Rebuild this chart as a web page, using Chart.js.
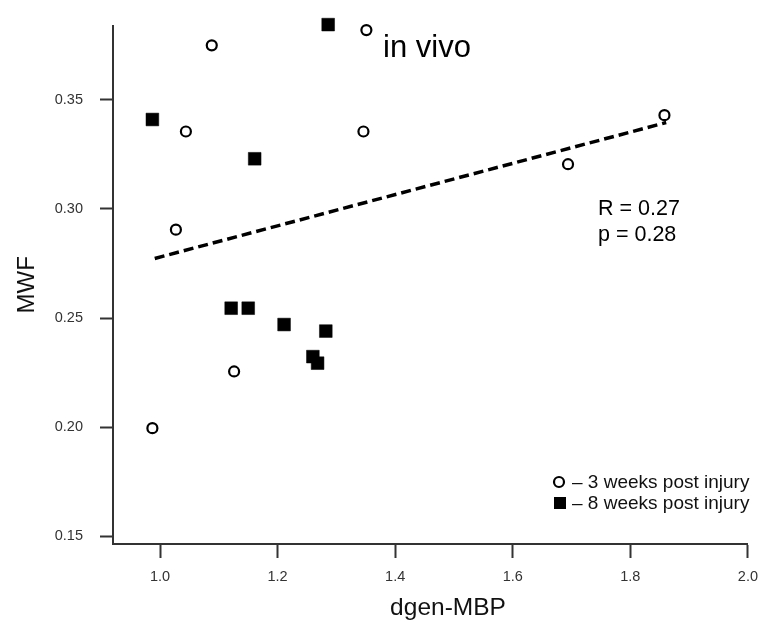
<!DOCTYPE html>
<html>
<head>
<meta charset="utf-8">
<script src="https://cdn.jsdelivr.net/npm/chart.js@4.4.1/dist/chart.umd.min.js"></script>
<style>
  html, body { margin: 0; padding: 0; background: #fff; }
  #wrap { width: 768px; height: 634px; }
</style>
</head>
<body>
<div id="wrap"><canvas id="mwfChart" width="768" height="634"></canvas></div>
<script>
// dgen-MBP vs MWF, in vivo
const weeks3X = [1.088, 1.351, 1.044, 1.346, 1.027, 1.694, 1.858, 1.126, 0.987];
const weeks3Y = [0.375, 0.382, 0.3355, 0.3355, 0.2905, 0.3205, 0.343, 0.2255, 0.1995];

const weeks8X = [1.286, 0.987, 1.161, 1.121, 1.150, 1.211, 1.282, 1.260, 1.268];
const weeks8Y = [0.3845, 0.341, 0.323, 0.2545, 0.2545, 0.247, 0.244, 0.2323, 0.2293];

// linea de regresion (extremos)
const fitX = [0.991, 1.861];
const fitY = [0.2773, 0.3396];

const xTicks = [1.0, 1.2, 1.4, 1.6, 1.8, 2.0];
const yTicks = [0.15, 0.20, 0.25, 0.30, 0.35];

const legendLabels = ['\u2013 3 weeks post injury', '\u2013 8 weeks post injury'];
const statLines = ['R = 0.27', 'p = 0.28'];
const xTitle = 'dgen-MBP';

const FONT = '"Liberation Sans", Arial, sans-serif';
const toPoints = (xs, ys) => xs.map((x, i) => ({ x: x, y: ys[i] }));

// textos sobre el area del grafico
const textosPlugin = {
    id: 'textos',
    afterDraw(chart) {
        const ctx = chart.ctx;
        ctx.save();
        ctx.fillStyle = '#000';
        ctx.textBaseline = 'alphabetic';
        ctx.textAlign = 'left';

        ctx.font = '31px ' + FONT;
        ctx.fillText('in vivo', 383, 57);

        ctx.font = '21.5px ' + FONT;
        ctx.fillText(statLines[0], 598, 215);
        ctx.fillText(statLines[1], 598, 241);

        // titulo del eje x (desplazado a la derecha como en el original)
        ctx.fillStyle = '#111';
        ctx.font = '24.5px ' + FONT;
        ctx.textAlign = 'center';
        ctx.fillText(xTitle, 448, 615);

        // leyenda
        ctx.textAlign = 'left';
        ctx.font = '19px ' + FONT;
        ctx.fillText(legendLabels[0], 572, 488);
        ctx.fillText(legendLabels[1], 572, 509);

        ctx.beginPath();
        ctx.arc(559, 482, 5, 0, Math.PI * 2);
        ctx.fillStyle = '#fff';
        ctx.fill();
        ctx.lineWidth = 2.2;
        ctx.strokeStyle = '#000';
        ctx.stroke();

        ctx.fillStyle = '#000';
        ctx.fillRect(554, 497, 12, 12);
        ctx.restore();
    }
};

new Chart(document.getElementById('mwfChart'), {
    type: 'scatter',
    data: {
        datasets: [
            {
                label: '3 weeks',
                data: toPoints(weeks3X, weeks3Y),
                pointStyle: 'circle',
                pointRadius: 5,
                pointBorderWidth: 2.2,
                pointBorderColor: '#000',
                pointBackgroundColor: '#fff',
                clip: false
            },
            {
                label: '8 weeks',
                data: toPoints(weeks8X, weeks8Y),
                pointStyle: 'rect',
                pointRadius: 9,
                pointBorderWidth: 0.5,
                pointBorderColor: '#000',
                pointBackgroundColor: '#000',
                clip: false
            },
            {
                type: 'line',
                label: 'fit',
                data: toPoints(fitX, fitY),
                borderColor: '#000',
                borderWidth: 3.5,
                borderDash: [10, 5],
                pointRadius: 0,
                fill: false
            }
        ]
    },
    options: {
        responsive: false,
        animation: false,
        devicePixelRatio: 1,
        layout: { padding: { top: 20, right: 20, left: 0, bottom: 0 } },
        plugins: { legend: { display: false }, tooltip: { enabled: false } },
        scales: {
            x: {
                type: 'linear',
                min: 0.92,
                max: 2.0,
                afterFit: s => { s.height = 90; },
                afterBuildTicks: s => { s.ticks = xTicks.map(v => ({ value: v })); },
                grid: { drawOnChartArea: false, drawTicks: true, tickLength: 14, tickWidth: 2, tickColor: '#333' },
                border: { display: true, color: '#333', width: 2 },
                ticks: {
                    padding: 10,
                    color: '#333',
                    font: { family: FONT, size: 14.5 },
                    maxRotation: 0,
                    callback: v => Number(v).toFixed(1)
                }
            },
            y: {
                type: 'linear',
                min: 0.1464,
                max: 0.384,
                afterFit: s => { s.width = 113; },
                afterBuildTicks: s => { s.ticks = yTicks.map(v => ({ value: v })); },
                grid: { drawOnChartArea: false, drawTicks: true, tickLength: 13, tickWidth: 2, tickColor: '#333' },
                border: { display: true, color: '#333', width: 2 },
                ticks: {
                    padding: 17,
                    color: '#333',
                    font: { family: FONT, size: 14.5 },
                    callback: v => Number(v).toFixed(2)
                },
                title: {
                    display: true,
                    text: 'MWF',
                    color: '#111',
                    font: { family: FONT, size: 24 },
                    padding: { top: 13, bottom: 0 }
                }
            }
        }
    },
    plugins: [textosPlugin]
});
</script>
</body>
</html>
